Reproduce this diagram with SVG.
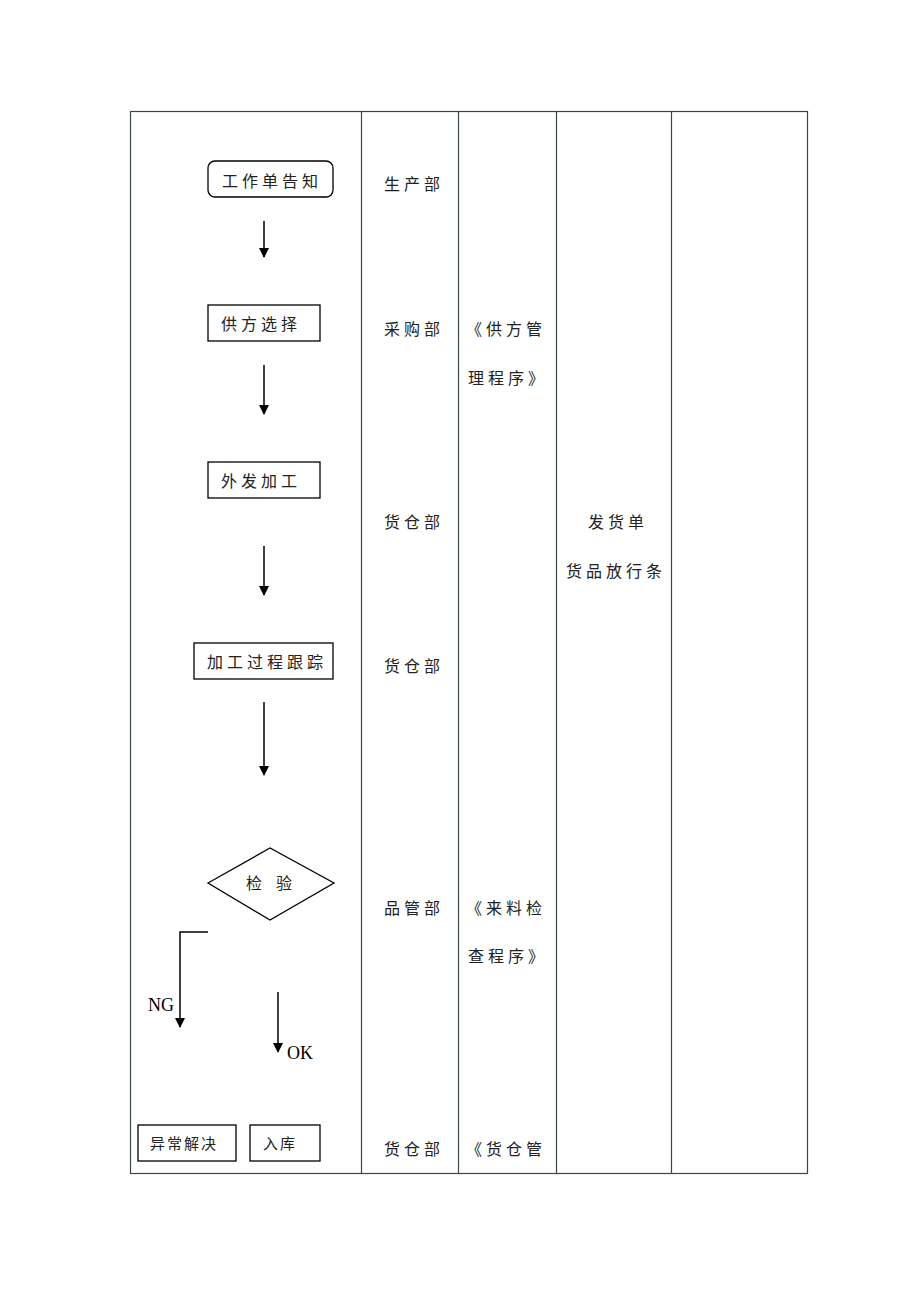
<svg xmlns="http://www.w3.org/2000/svg" width="920" height="1302" viewBox="0 0 920 1302">
<style>
.t{font-family:"Noto Sans CJK SC","Noto Sans CJK JP",sans-serif;font-size:16px;fill:#222;letter-spacing:4px}
.s{font-family:"Noto Sans CJK SC",sans-serif;font-size:15px;fill:#222;letter-spacing:2px}
.e{font-family:"Liberation Serif",serif;font-size:18px;fill:#000}
.b{fill:#fff;stroke:#000;stroke-width:1.3}
.g{stroke:#3a4a3a;stroke-width:1.2;fill:none}
.c{stroke:#000;stroke-width:1.5;fill:none}
</style>
<defs><marker id="a" markerWidth="10" markerHeight="10" refX="9" refY="5" orient="auto" markerUnits="userSpaceOnUse"><path d="M0,0 L10,5 L0,10 Z" fill="#000"/></marker></defs>
<rect width="920" height="1302" fill="#fff"/>
<g id="table" class="g">
<rect x="130.5" y="111.5" width="677" height="1062"/>
<line x1="361.5" y1="111" x2="361.5" y2="1173"/>
<line x1="458.5" y1="111" x2="458.5" y2="1173"/>
<line x1="556.5" y1="111" x2="556.5" y2="1173"/>
<line x1="671.5" y1="111" x2="671.5" y2="1173"/>
</g>
<g id="n1"><rect class="b" x="208" y="161" width="125" height="36" rx="7"/><text class="t" x="222" y="187">工作单告知</text></g>
<g id="n2"><rect class="b" x="208" y="305" width="112" height="36"/><text class="t" x="221" y="330">供方选择</text></g>
<g id="n3"><rect class="b" x="208" y="462" width="112" height="36"/><text class="t" x="221" y="487">外发加工</text></g>
<g id="n4"><rect class="b" x="194" y="643" width="139" height="36"/><text class="t" x="207" y="668">加工过程跟踪</text></g>
<g id="n5"><polygon class="b" points="208,883 270,848 334,883 270,920"/><text class="t" x="246" y="889" style="letter-spacing:14px">检验</text></g>
<g id="n6"><rect class="b" x="138" y="1125" width="98" height="36"/><text class="s" x="150" y="1149">异常解决</text></g>
<g id="n7"><rect class="b" x="250" y="1125" width="70" height="36"/><text class="s" x="263" y="1149">入库</text></g>
<g id="connectors">
<line class="c" x1="264" y1="221" x2="264" y2="257" marker-end="url(#a)"/>
<line class="c" x1="264" y1="365" x2="264" y2="414" marker-end="url(#a)"/>
<line class="c" x1="264" y1="546" x2="264" y2="595" marker-end="url(#a)"/>
<line class="c" x1="264" y1="702" x2="264" y2="775" marker-end="url(#a)"/>
<polyline class="c" points="208,932 180,932 180,1027" marker-end="url(#a)"/>
<line class="c" x1="278" y1="992" x2="278" y2="1052" marker-end="url(#a)"/>
<text class="e" x="148" y="1011">NG</text>
<text class="e" x="287" y="1059">OK</text>
</g>
<g id="labels">
<text class="t" x="384" y="190">生产部</text>
<text class="t" x="384" y="335">采购部</text>
<text class="t" x="384" y="528">货仓部</text>
<text class="t" x="384" y="672">货仓部</text>
<text class="t" x="384" y="914">品管部</text>
<text class="t" x="384" y="1155">货仓部</text>
<text class="t" x="466" y="335">《供方管</text>
<text class="t" x="468" y="384">理程序》</text>
<text class="t" x="466" y="914">《来料检</text>
<text class="t" x="468" y="962">查程序》</text>
<text class="t" x="466" y="1155">《货仓管</text>
<text class="t" x="588" y="528">发货单</text>
<text class="t" x="566" y="577">货品放行条</text>
</g>
</svg>
